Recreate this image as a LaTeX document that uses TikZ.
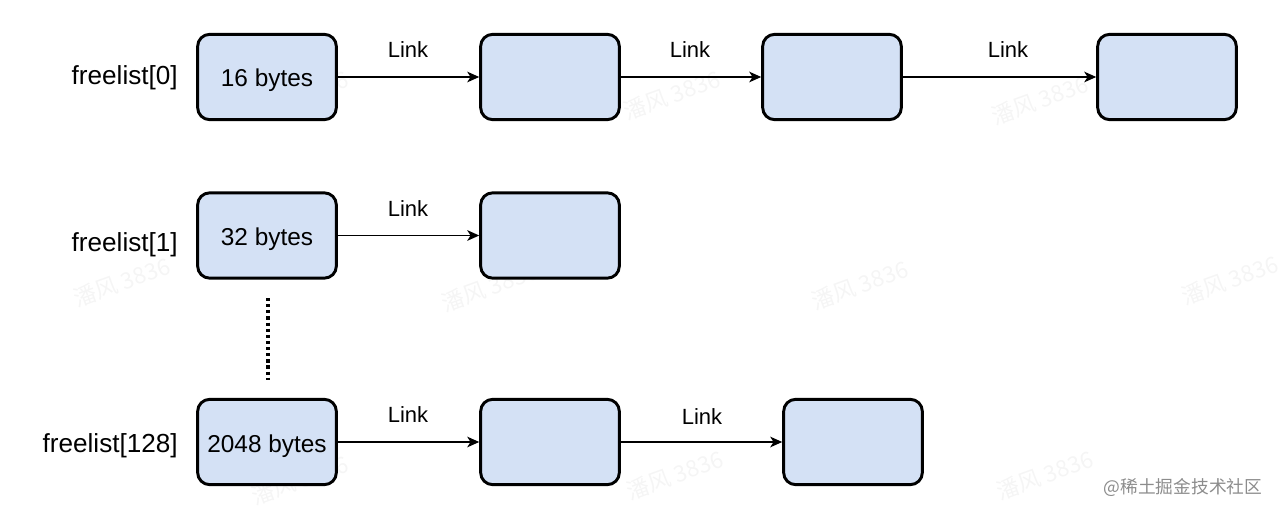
\documentclass[tikz,border=0pt]{standalone}
\usepackage{fontspec}
\setmainfont{Liberation Sans}
\newfontfamily\cjkfont{Noto Sans CJK SC}
\usetikzlibrary{arrows.meta}
\definecolor{blockFill}{HTML}{D4E1F5}

\begin{document}
\begin{tikzpicture}
[x=0.75pt,y=-0.75pt,%
  blockDecorate/.style={shape=rectangle,rounded corners=9pt,draw,line width=2.2pt,
    fill=blockFill,minimum width=104pt,minimum height=64pt,text height=16pt,text depth=1pt,
    font=\fontsize{18.3}{21}\selectfont},%
  linkDecorate/.style={line width=1.1pt,-{Stealth[length=9pt,width=8pt,inset=2.5pt]}},%
  listLabel/.style={anchor=east,inner sep=0pt,font=\fontsize{19.6}{23}\selectfont},%
  linkLabel/.style={font=\fontsize{16.5}{19}\selectfont},%
  markDecorate/.style={text=black!4,rotate=20,font=\cjkfont\fontsize{17}{20}\selectfont}]
\useasboundingbox (0,0) rectangle (1280,513);
%%
%% faint watermarks
\foreach \x/\y in {300/95, 672/95, 1040/100, 122/282, 490/287, 860/285,
  1230/280, 300/480, 675/475, 1045/475}
{
  \node[markDecorate] at (\x,\y) {潘风 3836};
}
%%
%% blocks
\foreach \nodename/\x/\y/\txt in {
  a0/267/77/16 bytes, a1/550/77/, a2/832/77/, a3/1167/77/,
  b0/267/235.5/32 bytes, b1/550/235.5/,
  c0/267/442/2048 bytes, c1/550/442/, c2/853/442/}
{
  \node (\nodename) at (\x,\y) [blockDecorate] {\txt};
}
%% list labels
\node (l0) at (178,78) [listLabel] {freelist[0]};
\node (l1) at (178,245) [listLabel] {freelist[1]};
\node (l2) at (178,446) [listLabel] {freelist[128]};
%% links
\path
\foreach \startnode/\endnode in {a0/a1, a1/a2, a2/a3, b0/b1, c0/c1, c1/c2}
{
  (\startnode) edge[linkDecorate] (\endnode)
};
\foreach \nodename/\x/\y in {
  k0/408/50, k1/690/50, k2/1008/50, k3/408/209, k4/408/415, k5/702/417}
{
  \node (\nodename) at (\x,\y) [linkLabel] {Link};
}
%% dots between lists
\coordinate (d0) at (268,298);
\coordinate (d1) at (268,380);
\draw[line width=2.6pt,dash pattern=on 2.4pt off 2.2pt] (d0) -- (d1);
%% site mark
\node (site) at (1183,488) [text=black!45,font=\cjkfont\fontsize{13.3}{16}\selectfont] {@稀土掘金技术社区};
\end{tikzpicture}
\end{document}
